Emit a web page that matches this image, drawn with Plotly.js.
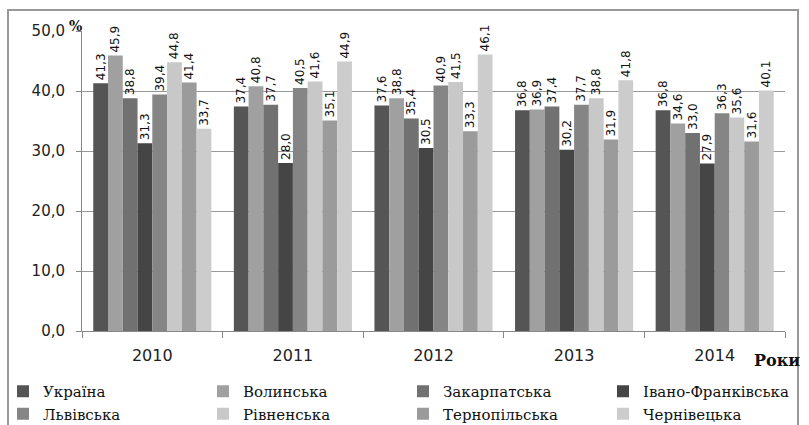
<!DOCTYPE html>
<html>
<head>
<meta charset="utf-8">
<script src="https://cdn.plot.ly/plotly-3.0.1.min.js"></script>
<style>html,body{margin:0;padding:0;background:#fff;}#chart{width:809px;height:425px;}</style>
</head>
<body>
<div id="chart"></div>
<script>
const years = ['2010', '2011', '2012', '2013', '2014'];
const seriesNames = ['Україна', 'Волинська', 'Закарпатська', 'Івано-Франківська', 'Львівська', 'Рівненська', 'Тернопільська', 'Чернівецька'];
const ukraine      = [41.3, 37.4, 37.6, 36.8, 36.8];
const volyn        = [45.9, 40.8, 38.8, 36.9, 34.6];
const zakarpattia  = [38.8, 37.7, 35.4, 37.4, 33.0];
const ivanoFrank   = [31.3, 28.0, 30.5, 30.2, 27.9];
const lviv         = [39.4, 40.5, 40.9, 37.7, 36.3];
const rivne        = [44.8, 41.6, 41.5, 38.8, 35.6];
const ternopil     = [41.4, 35.1, 33.3, 31.9, 31.6];
const chernivtsi   = [33.7, 44.9, 46.1, 41.8, 40.1];
const seriesValues = [ukraine, volyn, zakarpattia, ivanoFrank, lviv, rivne, ternopil, chernivtsi];
const colors = ['#555555', '#a0a0a0', '#717171', '#454545', '#858585', '#c8c8c8', '#9b9b9b', '#cccccc'];

const W = 809, H = 425;
const L = 82, R = 24, T = 31, B = 94;
const pw = W - L - R, ph = H - T - B;
const px = x => (x - L) / pw;
const py = y => (H - B - y) / ph;

const legendIds = ['legend', 'legend2', 'legend3', 'legend4'];

const traces = seriesNames.map((n, i) => ({
  type: 'bar',
  name: n,
  x: years,
  y: seriesValues[i],
  legend: legendIds[i % 4],
  marker: {color: colors[i], line: {width: 0}},
  texttemplate: '%{y:.1f}',
  textposition: 'outside',
  textangle: -90,
  constraintext: 'none',
  cliponaxis: false,
  textfont: {family: 'DejaVu Sans', size: 12, color: '#111'},
  hoverinfo: 'skip'
}));

function legendAt(leftPx) {
  return {
    orientation: 'v',
    xref: 'container', yref: 'container',
    x: leftPx / W, xanchor: 'left',
    y: 1 - 375 / H, yanchor: 'top',
    traceorder: 'normal',
    tracegroupgap: 0,
    font: {family: 'DejaVu Serif', size: 15, color: '#111'},
    bgcolor: 'rgba(0,0,0,0)'
  };
}

const layout = {
  width: W, height: H,
  margin: {l: L, r: R, t: T, b: B, autoexpand: false},
  paper_bgcolor: '#fff', plot_bgcolor: '#fff',
  separators: ', ',
  barmode: 'group',
  bargap: 0.16,
  bargroupgap: 0,
  showlegend: true,
  legend: legendAt(3),
  legend2: legendAt(203),
  legend3: legendAt(403),
  legend4: legendAt(603),
  xaxis: {
    type: 'category',
    tickson: 'boundaries',
    ticks: 'outside', ticklen: 6, tickcolor: '#888',
    showline: true, linecolor: '#888', linewidth: 1,
    showgrid: false,
    ticklabelstandoff: 10,
    tickfont: {family: 'DejaVu Sans', size: 16, color: '#222'}
  },
  yaxis: {
    range: [0, 50], dtick: 10, tickformat: '.1f',
    ticks: 'outside', ticklen: 5, tickcolor: '#888',
    showline: true, linecolor: '#888', linewidth: 1,
    showgrid: true, gridcolor: '#999', gridwidth: 1,
    zeroline: false,
    ticklabelstandoff: 8,
    tickfont: {family: 'DejaVu Sans', size: 15, color: '#222'}
  },
  annotations: [
    {text: '<b>%</b>', xref: 'paper', yref: 'paper', x: px(75), y: py(26), showarrow: false,
     xanchor: 'center', yanchor: 'middle', font: {family: 'DejaVu Serif', size: 14, color: '#111'}},
    {text: '<b>Роки</b>', xref: 'paper', yref: 'paper', x: px(777), y: py(360), showarrow: false,
     xanchor: 'center', yanchor: 'middle', font: {family: 'DejaVu Serif', size: 16, color: '#111'}}
  ],
  shapes: [
    {type: 'rect', xref: 'paper', yref: 'paper', x0: px(8), x1: px(798), y0: py(10), y1: py(440),
     line: {color: '#999', width: 2}, fillcolor: 'rgba(0,0,0,0)', layer: 'below'}
  ]
};

Plotly.newPlot('chart', traces, layout, {displayModeBar: false, staticPlot: true});
</script>
</body>
</html>
